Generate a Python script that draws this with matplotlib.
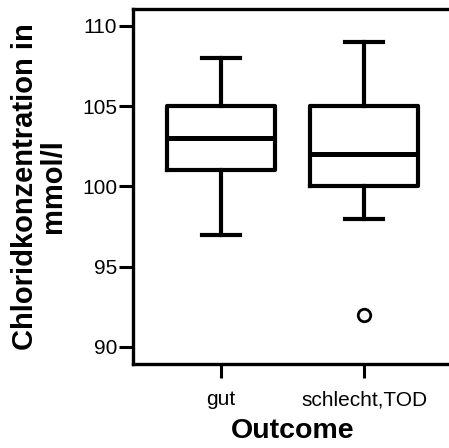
import matplotlib
matplotlib.use("Agg")
import matplotlib.pyplot as plt

plt.rcParams['font.family'] = ['Liberation Sans', 'DejaVu Sans']

categories = ["gut", "schlecht,TOD"]
whislo = [97, 98]
q1 = [101, 100]
med = [103, 102]
q3 = [105, 105]
whishi = [108, 109]
fliers = [[], [92]]
yticks = [90, 95, 100, 105, 110]

stats = []
for i, c in enumerate(categories):
    stats.append(dict(label=c, whislo=whislo[i], q1=q1[i], med=med[i],
                      q3=q3[i], whishi=whishi[i], fliers=fliers[i]))

fig = plt.figure(figsize=(4.49, 4.48), dpi=100)
ax = fig.add_axes([133/449, 84/448, 319/449, 355/448])

lw = 3.0
ax.bxp(stats, positions=[1, 2], widths=0.76, capwidths=0.26,
       boxprops=dict(color='black', linewidth=lw),
       whiskerprops=dict(color='black', linewidth=lw),
       capprops=dict(color='black', linewidth=lw),
       medianprops=dict(color='black', linewidth=lw + 0.6),
       flierprops=dict(marker='o', markerfacecolor='white', markeredgecolor='black',
                       markersize=9, markeredgewidth=2.0))

ax.set_xlim(1 - 88/143, 2 + 88/143)
ax.set_ylim(90 - 17/16.05, 110 + 17/16.05)
ax.set_yticks(yticks)
ax.set_yticklabels([str(t) for t in yticks])
ax.set_xticks([1, 2])
ax.set_xticklabels(categories)

for s in ax.spines.values():
    s.set_linewidth(2.4)
ax.tick_params(axis='both', length=10, width=2.2, labelsize=15, pad=1.5)
ax.tick_params(axis='x', pad=9)

ax.set_xlabel("Outcome", fontsize=20.5, fontweight='bold', labelpad=6)
ax.set_ylabel("Chloridkonzentration in\nmmol/l", fontsize=21, fontweight='bold',
              labelpad=11, linespacing=1.0)

fig.savefig("out.png", dpi=100)
